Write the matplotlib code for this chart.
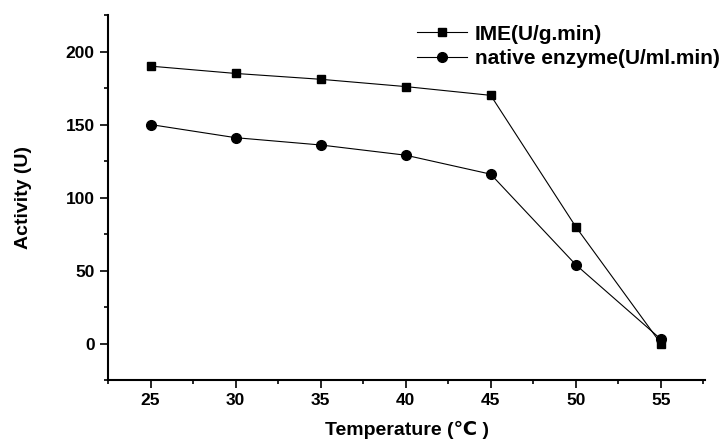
import numpy as np
import matplotlib.pyplot as plt
from matplotlib.ticker import MultipleLocator

temperature = [25, 30, 35, 40, 45, 50, 55]
ime = [190, 185, 181, 176, 170, 80, 0]
native = [150, 141, 136, 129, 116, 54, 3]

plt.rcParams['font.family'] = ['Liberation Sans', 'DejaVu Sans']

fig = plt.figure(figsize=(7.22, 4.44), dpi=100)
ax = fig.add_axes([0.1496, 0.1441, 0.8269, 0.822])

ax.plot(temperature, ime, color='black', lw=0.8, marker='s', ms=6, label='IME(U/g.min)')
ax.plot(temperature, native, color='black', lw=0.8, marker='o', ms=7, label='native enzyme(U/ml.min)')

ax.set_xlim(22.5, 57.6)
ax.set_ylim(-25, 225)
ax.xaxis.set_major_locator(MultipleLocator(5))
ax.xaxis.set_minor_locator(MultipleLocator(2.5))
ax.yaxis.set_major_locator(MultipleLocator(50))
ax.yaxis.set_minor_locator(MultipleLocator(25))

for s in ['top', 'right']:
    ax.spines[s].set_visible(False)
for s in ['left', 'bottom']:
    ax.spines[s].set_linewidth(1.5)

ax.tick_params(which='major', direction='out', length=6, width=1.2, labelsize=12.5)
ax.tick_params(which='minor', direction='out', length=3, width=1.2)
for lab in ax.get_xticklabels() + ax.get_yticklabels():
    lab.set_fontweight('bold')

ax.set_xlabel('Temperature (\u2103 )', fontsize=14, fontweight='bold', labelpad=9)
ax.set_ylabel('Activity (U)', fontsize=14, fontweight='bold', labelpad=24)

leg = ax.legend(loc='upper right', bbox_to_anchor=(1.045, 1.008), frameon=False,
                prop={'size': 15, 'weight': 'bold'},
                handlelength=2.4, handletextpad=0.35, labelspacing=0.25, borderaxespad=0.2)

fig.savefig('out.png', dpi=100)
